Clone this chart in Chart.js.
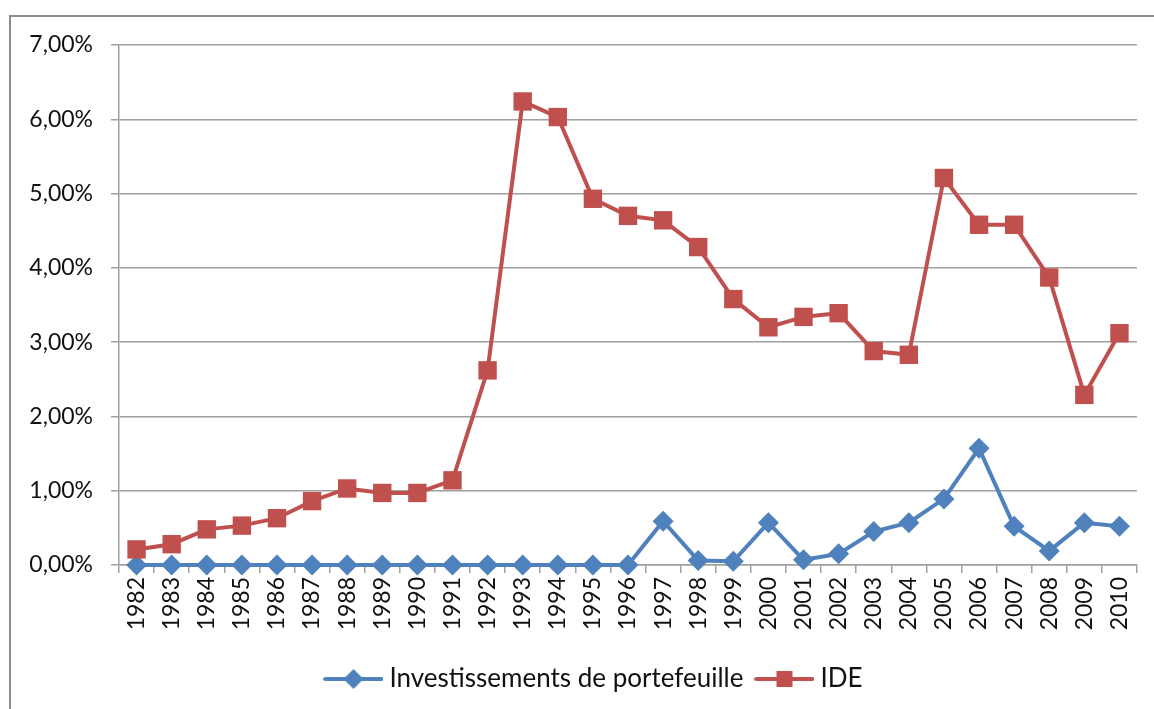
<!DOCTYPE html>
<html>
<head>
<meta charset="utf-8">
<script src="https://cdn.jsdelivr.net/npm/chart.js@4"></script>
<style>
    body { margin: 0; background: #fff; }
    .wrap { position: relative; width: 1154px; height: 709px; overflow: hidden; }
    .frame { position: absolute; left: 9px; top: 15px; width: 1200px; height: 800px;
             border-left: 2px solid #8c8c8c; border-top: 2px solid #8c8c8c; }
    canvas { position: absolute; left: 0; top: 0; }
</style>
</head>
<body>
<div class="wrap">
    <div class="frame"></div>
    <canvas id="chart" width="1154" height="709"></canvas>
</div>
<script>
const years = ['1982', '1983', '1984', '1985', '1986', '1987', '1988', '1989', '1990', '1991',
    '1992', '1993', '1994', '1995', '1996', '1997', '1998', '1999', '2000', '2001',
    '2002', '2003', '2004', '2005', '2006', '2007', '2008', '2009', '2010'];

// en % du PIB
const portefeuille = [0, 0, 0, 0, 0, 0, 0, 0, 0, 0,
    0, 0, 0, 0, 0, 0.59, 0.06, 0.05, 0.57, 0.07,
    0.15, 0.45, 0.57, 0.89, 1.57, 0.52, 0.19, 0.57, 0.52];

const ide = [0.21, 0.28, 0.48, 0.53, 0.63, 0.86, 1.03, 0.97, 0.97, 1.14,
    2.62, 6.24, 6.03, 4.93, 4.70, 4.64, 4.28, 3.58, 3.20, 3.34,
    3.39, 2.88, 2.83, 5.21, 4.58, 4.58, 3.87, 2.29, 3.12];

const yTicks = [0, 1, 2, 3, 4, 5, 6, 7];

const BLUE = '#4f81bd';
const RED = '#c0504d';
const GRID = '#a0a0a0';
const TEXT = '#111';
const FONT = 'Lato';

// petite image "ligne + marqueur" pour la légende
function legendIcon(color, style) {
    const c = document.createElement('canvas');
    c.width = 60;
    c.height = 24;
    const ctx = c.getContext('2d');
    ctx.strokeStyle = color;
    ctx.fillStyle = color;
    ctx.lineWidth = 4;
    ctx.lineCap = 'round';
    ctx.beginPath();
    ctx.moveTo(2, 12);
    ctx.lineTo(58, 12);
    ctx.stroke();
    ctx.beginPath();
    if (style === 'rect') {
        ctx.rect(30 - 8, 12 - 8, 16, 16);
    } else {
        ctx.moveTo(30, 2);
        ctx.lineTo(40, 12);
        ctx.lineTo(30, 22);
        ctx.lineTo(20, 12);
        ctx.closePath();
    }
    ctx.fill();
    return c;
}

// la légende d'Excel est centrée sur le cadre, un peu à droite
const legendShift = {
    id: 'legendShift',
    afterLayout(chart) {
        chart.legend.left += 28;
        chart.legend.right += 28;
    }
};

const ctx = document.getElementById('chart');

new Chart(ctx, {
    type: 'line',
    data: {
        labels: years,
        datasets: [{
            label: 'Investissements de portefeuille',
            data: portefeuille,
            borderColor: BLUE,
            backgroundColor: BLUE,
            borderWidth: 4,
            pointStyle: 'rectRot',
            pointRadius: 10.5,
            pointBorderWidth: 0,
            tension: 0,
            clip: false,
            order: 1
        }, {
            label: 'IDE',
            data: ide,
            borderColor: RED,
            backgroundColor: RED,
            borderWidth: 4,
            pointStyle: 'rect',
            pointRadius: 13,
            pointBorderWidth: 0,
            tension: 0,
            clip: false,
            order: 0
        }]
    },
    options: {
        responsive: false,
        animation: false,
        layout: {
            padding: { left: 0, right: 17, top: 45, bottom: 7 }
        },
        plugins: {
            tooltip: { enabled: false },
            legend: {
                position: 'bottom',
                labels: {
                    usePointStyle: true,
                    pointStyleWidth: 46,
                    padding: 18,
                    color: TEXT,
                    font: { family: FONT, size: 26 },
                    generateLabels: chart => chart.data.datasets.map((ds, i) => ({
                        text: ds.label,
                        pointStyle: legendIcon(ds.borderColor, ds.pointStyle),
                        fillStyle: ds.borderColor,
                        strokeStyle: ds.borderColor,
                        lineWidth: 0,
                        hidden: false,
                        datasetIndex: i,
                        fontColor: TEXT
                    }))
                }
            }
        },
        scales: {
            x: {
                offset: true,
                afterFit: scale => { scale.height = 83; },
                grid: {
                    offset: true,
                    drawOnChartArea: false,
                    drawTicks: true,
                    tickLength: 8,
                    color: GRID,
                    lineWidth: 1.5
                },
                border: { color: GRID, width: 1.5 },
                ticks: {
                    autoSkip: false,
                    minRotation: 90,
                    maxRotation: 90,
                    padding: 4,
                    color: TEXT,
                    font: { family: FONT, size: 23 }
                }
            },
            y: {
                min: yTicks[0],
                max: yTicks[yTicks.length - 1],
                afterFit: scale => { scale.width = 119; },
                afterBuildTicks: scale => {
                    scale.ticks = yTicks.map(v => ({ value: v }));
                },
                grid: {
                    color: GRID,
                    lineWidth: 1.5,
                    tickLength: 8
                },
                border: { color: GRID, width: 1.5 },
                ticks: {
                    padding: 18,
                    color: TEXT,
                    font: { family: FONT, size: 23 },
                    callback: value => value.toFixed(2).replace('.', ',') + '%'
                }
            }
        }
    },
    plugins: [legendShift]
});
</script>
</body>
</html>
